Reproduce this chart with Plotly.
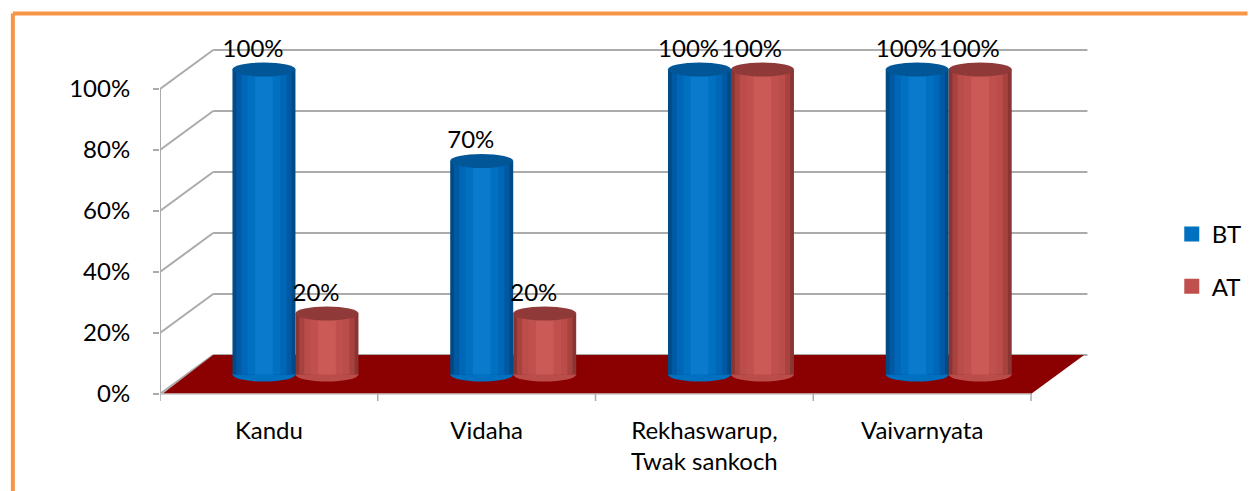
import plotly.graph_objects as go

# ---- data ----
categories = ["Kandu", "Vidaha", "Rekhaswarup,<br>Twak sankoch", "Vaivarnyata"]
bt_values = [1.00, 0.70, 1.00, 1.00]
at_values = [0.20, 0.20, 1.00, 1.00]
bt_labels = ["100%", "70%", "100%", "100%"]
at_labels = ["20%", "20%", "100%", "100%"]
y_ticks = [0, 0.2, 0.4, 0.6, 0.8, 1.0]
y_ticktext = ["0%", "20%", "40%", "60%", "80%", "100%"]

# ---- geometry (pseudo-3D) ----
PAGE = 8                       # browser body margin
W, H = 1259 - PAGE, 491 - PAGE
PW, PH = 950, 372
L, T = 160 - PAGE, 30 - PAGE
R, B = W - L - PW, H - T - PH
PX_X = 221.25            # px per category unit
PX_Y = 305.0             # px per 100%
DX, DY = 54 / PX_X, 39 / PX_Y          # full depth offset
HX, HY = DX / 2, DY / 2                # cylinders sit at mid depth
BAR_W = 64 / PX_X
OFF = 32 / PX_X
CAP_H = 14 / PX_Y
x_range = [0, PW / PX_X]
y_range = [-(402 - 394) / PX_Y, (394 - 30) / PX_Y]

FONT = "Lato"
FS = 24
GRID = "#ABABAB"

blue_layers = ["#004A86", "#0059A2", "#0066B8", "#0070C0", "#0A7ACD"]
red_layers = ["#8A3533", "#A8423F", "#BA4C49", "#C0504D", "#CB5A57"]
layer_w = [1.0, 0.88, 0.72, 0.52, 0.28]
blue_cap = "#005697"
red_cap = "#8F3A38"

n = len(categories)
centers = [i + 0.5 for i in range(n)]
bt_x = [c - OFF + HX for c in centers]
at_x = [c + OFF + HX for c in centers]

fig = go.Figure()
shapes = []

# back wall gridlines + left wall diagonals
for v in y_ticks:
    shapes.append(dict(type="line", xref="x", yref="y", x0=0, y0=v, x1=DX, y1=v + DY,
                       line=dict(color=GRID, width=2), layer="below"))
    shapes.append(dict(type="line", xref="x", yref="y", x0=DX, y0=v + DY, x1=4 + DX + 0.015, y1=v + DY,
                       line=dict(color=GRID, width=2), layer="below"))
# vertical axis line
shapes.append(dict(type="line", xref="x", yref="y", x0=0, y0=0, x1=0, y1=1,
                   line=dict(color=GRID, width=2), layer="below"))
# floor
shapes.append(dict(type="path", xref="x", yref="y",
                   path=f"M 0.01 0 L 4 0 L {4 + DX} {DY} L {DX} {DY} Z",
                   fillcolor="#8B0000", line=dict(width=0), layer="below"))
# front bottom edge + x tick marks
shapes.append(dict(type="line", xref="x", yref="y", x0=0, y0=0, x1=4, y1=0,
                   line=dict(color="#C8C8C8", width=1.5), layer="below"))
for i in range(n + 1):
    shapes.append(dict(type="line", xref="x", yref="y", x0=i, y0=0, x1=i, y1=-7 / PX_Y,
                       line=dict(color=GRID, width=1.5), layer="below"))

# bottom ellipses of cylinders
for xs, vals, col in [(bt_x, bt_values, blue_layers[3]), (at_x, at_values, red_layers[2])]:
    for x, v in zip(xs, vals):
        shapes.append(dict(type="circle", xref="x", yref="y",
                           x0=x - BAR_W / 2, x1=x + BAR_W / 2,
                           y0=HY - CAP_H / 2, y1=HY + CAP_H / 2,
                           fillcolor=col, line=dict(width=0), layer="below"))

# cylinder bodies as overlaid bars (shading layers)
for name, xs, vals, cols in [("BT", bt_x, bt_values, blue_layers), ("AT", at_x, at_values, red_layers)]:
    for k, (lw, col) in enumerate(zip(layer_w, cols)):
        fig.add_trace(go.Bar(
            x=xs, y=vals, base=[HY] * n, width=[BAR_W * lw] * n,
            marker=dict(color=col, line=dict(width=0)),
            name=name, showlegend=False, legendgroup=name,
            hoverinfo="skip",
        ))

# top caps
for xs, vals, col in [(bt_x, bt_values, blue_cap), (at_x, at_values, red_cap)]:
    for x, v in zip(xs, vals):
        shapes.append(dict(type="circle", xref="x", yref="y",
                           x0=x - BAR_W / 2, x1=x + BAR_W / 2,
                           y0=v + HY - CAP_H / 2, y1=v + HY + CAP_H / 2,
                           fillcolor=col, line=dict(width=0), layer="above"))

# data labels
for xs, vals, labs in [(bt_x, bt_values, bt_labels), (at_x, at_values, at_labels)]:
    fig.add_trace(go.Scatter(
        x=[x - 0.05 for x in xs], y=[v + HY + CAP_H / 2 for v in vals],
        text=labs, mode="text", textposition="top center",
        textfont=dict(family=FONT, size=FS, color="#000000"),
        showlegend=False, hoverinfo="skip", cliponaxis=False,
    ))

# legend swatches
fig.add_trace(go.Scatter(x=[None], y=[None], name="BT", mode="markers",
                         marker=dict(symbol="square", size=15, color="#0070C0"),
                         legendgroup="BT", showlegend=True))
fig.add_trace(go.Scatter(x=[None], y=[None], name="AT", mode="markers",
                         marker=dict(symbol="square", size=15, color="#C0504D"),
                         legendgroup="AT", showlegend=True))

# orange frame (page pixel coordinates converted to paper)
def px_x(p):
    return (p - PAGE - L) / PW

def px_y(p):
    return (H - B - (p - PAGE)) / PH

shapes.append(dict(type="line", xref="paper", yref="paper", x0=px_x(10.5), y0=px_y(495), x1=px_x(10.5), y1=px_y(13.5),
                   line=dict(color="#F79646", width=4)))
shapes.append(dict(type="line", xref="paper", yref="paper", x0=px_x(10.5), y0=px_y(13.5), x1=px_x(1265), y1=px_y(13.5),
                   line=dict(color="#F79646", width=4)))

fig.update_layout(
    width=W, height=H,
    margin=dict(l=L, r=R, t=T, b=B),
    paper_bgcolor="white", plot_bgcolor="white",
    barmode="overlay",
    shapes=shapes,
    font=dict(family=FONT, size=FS, color="#000000"),
    showlegend=True,
    legend=dict(x=px_x(1188), y=px_y(212), xanchor="left", yanchor="top",
                font=dict(family=FONT, size=FS), tracegroupgap=18, bgcolor="rgba(0,0,0,0)",
                itemclick=False, itemsizing="trace"),
    xaxis=dict(range=x_range, showgrid=False, zeroline=False, showline=False,
               tickvals=centers, ticktext=categories, ticks="", ticklabelstandoff=12,
               tickfont=dict(family=FONT, size=FS, color="#000000"), fixedrange=True),
    yaxis=dict(range=y_range, showgrid=False, zeroline=False, showline=False,
               tickvals=y_ticks, ticktext=y_ticktext, ticks="outside", ticklen=6, tickcolor=GRID, tickwidth=1.5,
               ticklabelstandoff=18,
               tickfont=dict(family=FONT, size=FS, color="#000000"), fixedrange=True),
)

fig.write_html("out.html")
